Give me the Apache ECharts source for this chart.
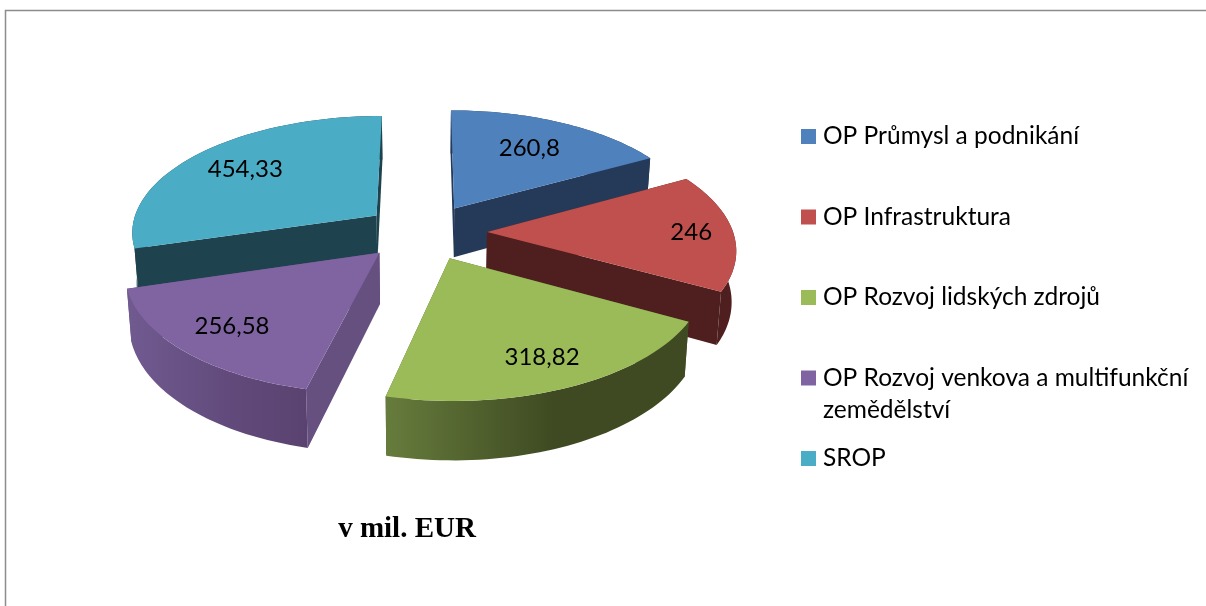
<!DOCTYPE html>
<html>
<head>
<meta charset="utf-8">
<title>v mil. EUR</title>
<script src="https://cdn.jsdelivr.net/npm/echarts@6/dist/echarts.min.js"></script>
<style>
  html, body { margin: 0; padding: 0; background: #fff; }
  #myChart { width: 1206px; height: 606px; }
</style>
</head>
<body>
<div id="myChart"></div>
<script>
  var categories = ['OP Průmysl a podnikání', 'OP Infrastruktura', 'OP Rozvoj lidských zdrojů', 'OP Rozvoj venkova a multifunkční\nzemědělství', 'SROP']
  var values = [260.8, 246, 318.82, 256.58, 454.33]
  var valueLabels = ['260,8', '246', '318,82', '256,58', '454,33']

  var topColors = ['#4f81bd', '#c0504d', '#9bbb59', '#8064a2', '#4bacc6']
  var cutColors = ['#253a59', '#4f1f1f', '#4a5a2a', '#65507f', '#1f434e']
  var wallStops = [
    ['#253a59', '#253a59', '#253a59'],
    ['#4f1f1f', '#4f1f1f', '#4f1f1f'],
    ['#667c3c', '#3f4a22', '#3f4a22'],
    ['#705a90', '#624b7c', '#5a4270'],
    ['#1f434e', '#1f434e', '#1f434e']
  ]
  var drawOrder = [1, 3, 5, 4, 2] // 后面的扇区先画
  var nudgeX = [0, 3, 0, -4, -2]
  var labelRadius = [0.68, 0.83, 0.79, 0.77, 0.73]

  // 透视参数
  var cx = 425, cy = 232, rx = 246, ry = 116.6, persp = 0.13, depth = 50, explode = 0.24, bottomScale = 0.985

  var total = values.reduce(function (a, b) { return a + b }, 0)

  function project(u, v, z, dx) {
    var f = 1 + persp * v
    var sx = 1 - (1 - bottomScale) * z
    return [cx + (dx || 0) + rx * u / f * sx, cy - ry * v / f + depth * z / f]
  }

  function renderSlice(index) {
    var before = 0
    for (var i = 0; i < index; i++) before += values[i]
    var a0 = before / total * Math.PI * 2
    var a1 = (before + values[index]) / total * Math.PI * 2
    var mid = (a0 + a1) / 2
    var ou = Math.sin(mid) * explode
    var ov = Math.cos(mid) * explode
    var dx = nudgeX[index]

    var arc = []
    var steps = 48
    for (var s = 0; s <= steps; s++) {
      var a = a0 + (a1 - a0) * s / steps
      arc.push([ou + Math.sin(a), ov + Math.cos(a)])
    }
    function at(list, z) {
      return list.map(function (p) { return project(p[0], p[1], z, dx) })
    }
    var apex = [ou, ov]
    var top = at([apex].concat(arc), 0)
    var wall = at(arc, 0).concat(at(arc, 1).reverse())
    var first = arc[0]
    var last = arc[steps]
    var face0 = at([apex, first], 0).concat(at([first, apex], 1))
    var face1 = at([apex, last], 0).concat(at([last, apex], 1))
    var r = labelRadius[index]
    var labelPos = project(ou + Math.sin(mid) * r, ov + Math.cos(mid) * r, 0, dx)

    return {
      type: 'group',
      children: [
        { type: 'polygon', shape: { points: face0 }, style: { fill: cutColors[index] } },
        { type: 'polygon', shape: { points: face1 }, style: { fill: cutColors[index] } },
        {
          type: 'polygon',
          shape: { points: wall },
          style: {
            fill: new echarts.graphic.LinearGradient(0, 0, 1, 0, [
              { offset: 0, color: wallStops[index][0] },
              { offset: 0.55, color: wallStops[index][1] },
              { offset: 1, color: wallStops[index][2] }
            ])
          }
        },
        { type: 'polygon', shape: { points: top }, style: { fill: topColors[index] } },
        {
          type: 'text',
          style: {
            text: valueLabels[index],
            x: labelPos[0],
            y: labelPos[1],
            align: 'center',
            verticalAlign: 'middle',
            fill: '#000',
            font: '24px Lato'
          }
        }
      ]
    }
  }

  var myChart = echarts.init(document.getElementById('myChart'))
  var series = categories.map(function (name, i) {
    return {
      type: 'custom',
      name: name,
      coordinateSystem: 'none',
      z: drawOrder[i] + 1,
      silent: true,
      animation: false,
      itemStyle: { color: topColors[i] },
      data: [[values[i]]],
      renderItem: function () { return renderSlice(i) }
    }
  })

  myChart.setOption({
    animation: false,
    title: {
      text: 'v mil. EUR',
      left: 402,
      top: 510,
      textAlign: 'center',
      textStyle: { fontFamily: 'Liberation Serif', fontWeight: 'bold', fontSize: 29, color: '#000' }
    },
    legend: {
      orient: 'vertical',
      left: 801,
      top: 88.5,
      padding: 0,
      icon: 'rect',
      itemWidth: 15,
      itemHeight: 15,
      itemGap: -15.5,
      selectedMode: false,
      data: categories,
      formatter: function (name) {
        var lines = name.split('\n')
        return '\n' + lines[0] + '\n' + (lines[1] || '')
      },
      textStyle: { fontFamily: 'Lato', fontSize: 24.5, lineHeight: 32, color: '#000', padding: [0, 0, 0, 2] }
    },
    graphic: [{
      type: 'polyline',
      silent: true,
      shape: { points: [[5.5, 606], [5.5, 10.5], [1206, 10.5]] },
      style: { stroke: '#8c8c8c', lineWidth: 1.5, fill: null }
    }],
    series: series
  })
</script>
</body>
</html>
